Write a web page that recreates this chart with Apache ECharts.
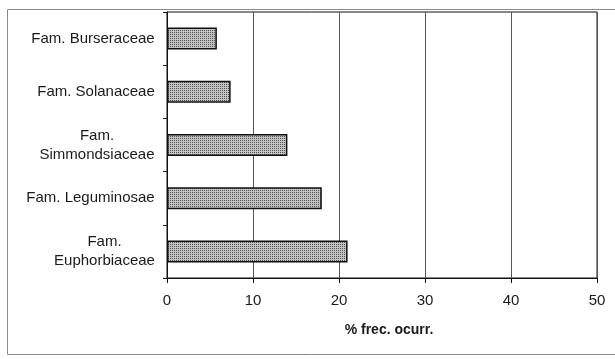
<!DOCTYPE html>
<html>
<head>
<meta charset="utf-8">
<script src="https://cdn.jsdelivr.net/npm/echarts@6/dist/echarts.min.js"></script>
<style>
  html, body { margin: 0; padding: 0; background: #fff; }
  #chart { width: 615px; height: 359px; }
</style>
</head>
<body>
<div id="chart"></div>
<script>
// Families, listed top to bottom
const families = [
  'Fam. Burseraceae',
  'Fam. Solanaceae',
  'Fam.\nSimmondsiaceae',
  'Fam. Leguminosae',
  'Fam.\nEuphorbiaceae'
];
// Frequency of occurrence (%)
const frequency = [5.8, 7.4, 14, 18, 21];
const xTicks = [0, 10, 20, 30, 40, 50];
const xTitle = '% frec. ocurr.';

const font = '"Liberation Sans", Arial, sans-serif';
const labelSize = 15;

// Fine dotted fill for the bars
function dotPattern() {
  const c = document.createElement('canvas');
  c.width = 2; c.height = 2;
  const g = c.getContext('2d');
  g.fillStyle = '#c4c4c4';
  g.fillRect(0, 0, 2, 2);
  g.fillStyle = '#505050';
  g.fillRect(0, 0, 1, 1);
  return c;
}

// Each multi-line label is centred within the width of its longest line
const measure = document.createElement('canvas').getContext('2d');
measure.font = labelSize + 'px ' + font;
const labelRich = {};
families.forEach(function (name, i) {
  const w = Math.max.apply(null, name.split('\n').map(function (s) { return measure.measureText(s).width; }));
  labelRich['l' + i] = { width: Math.ceil(w), align: 'center', fontFamily: font, fontSize: labelSize, color: '#1a1a1a', lineHeight: 19 };
});

const chart = echarts.init(document.getElementById('chart'), null, { renderer: 'canvas' });

chart.setOption({
  animation: false,
  backgroundColor: '#fff',
  graphic: [{
    type: 'rect',
    shape: { x: 7.5, y: 9.5, width: 640, height: 345 },
    style: { fill: null, stroke: '#8a8a8a', lineWidth: 1 },
    silent: true
  }],
  grid: {
    left: 167, right: 18, top: 12, bottom: 81,
    show: true, borderColor: '#111', borderWidth: 1, backgroundColor: 'transparent'
  },
  xAxis: {
    type: 'value',
    min: xTicks[0], max: xTicks[xTicks.length - 1], interval: 10,
    name: xTitle,
    nameLocation: 'middle',
    nameGap: 45,
    nameTextStyle: { fontFamily: font, fontSize: 14, fontWeight: 'bold', color: '#1a1a1a', padding: [0, 0, 0, 14] },
    axisLine: { show: true, lineStyle: { color: '#111', width: 1 } },
    axisTick: { show: true, length: 5, lineStyle: { color: '#111' } },
    axisLabel: { margin: 15, fontFamily: font, fontSize: labelSize, color: '#1a1a1a' },
    splitLine: { show: true, lineStyle: { color: '#555', width: 1 } }
  },
  yAxis: {
    type: 'category',
    data: families,
    inverse: true,
    axisLine: { show: true, lineStyle: { color: '#111', width: 1 } },
    axisTick: { show: true, length: 4, lineStyle: { color: '#111' } },
    axisLabel: {
      margin: 12,
      fontFamily: font, fontSize: labelSize, color: '#1a1a1a', lineHeight: 19,
      formatter: function (v, i) {
        return v.split('\n').map(function (s) { return '{l' + i + '|' + s + '}'; }).join('\n');
      },
      rich: labelRich
    },
    splitLine: { show: false }
  },
  series: [{
    type: 'bar',
    data: frequency,
    barWidth: 22,
    itemStyle: {
      color: { image: dotPattern(), repeat: 'repeat' },
      borderColor: '#111',
      borderWidth: 1.5
    }
  }]
});
</script>
</body>
</html>
